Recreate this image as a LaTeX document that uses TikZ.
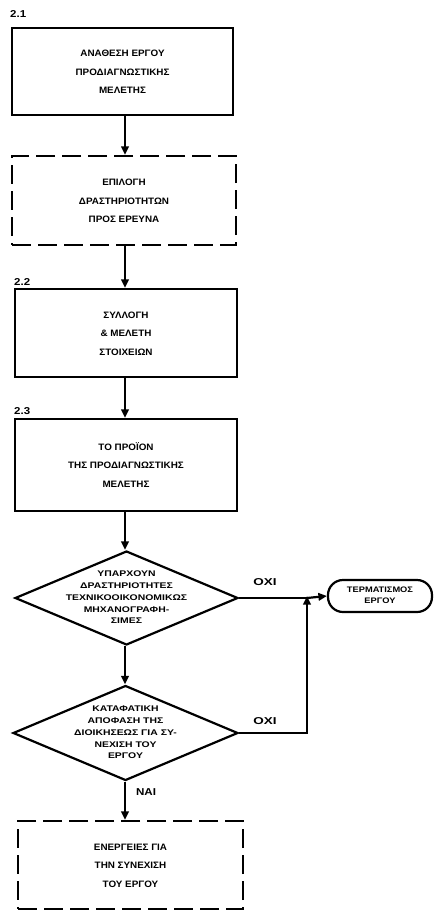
\documentclass[tikz,border=0pt]{standalone}
\usepackage{graphicx}
\usepackage{fontspec}
\setmainfont{Liberation Sans}
\usetikzlibrary{shapes.geometric,arrows.meta}

% horizontally widened, centred block of lines
\newcommand\widetext[2]{\scalebox{#1}[1]{\begin{tabular}{@{}c@{}}#2\end{tabular}}}

\tikzset{
  line/.style={line width=2.2pt},
  arr/.style={line, -{Triangle[length=8.5pt,width=7.5pt]}},
  solidbox/.style={draw, line width=2.4pt, rectangle,
    font=\bfseries\fontsize{9.3}{18.5}\selectfont, inner sep=0pt},
  dashbox/.style={solidbox, dash pattern=on 19pt off 7pt},
  decision/.style={draw, line width=2.2pt, diamond, inner sep=0pt},
  dtext/.style={font=\bfseries\fontsize{8.2}{11.7}\selectfont},
  terminal/.style={draw, line width=2.2pt, rectangle, rounded corners=15pt,
    font=\bfseries\fontsize{8}{11}\selectfont,
    minimum width=104pt, minimum height=32pt, inner sep=0pt},
  tag/.style={font=\bfseries\fontsize{10}{11}\selectfont, inner sep=0pt},
}

\begin{document}
\begin{tikzpicture}[x=1pt,y=-1pt]
\useasboundingbox (0,0) rectangle (437,913);
\coordinate (ax) at (125,0);

% process boxes
\node[solidbox, minimum width=221pt, minimum height=87pt] (b1) at (122.5,71.5)
  {\widetext{1.06}{ΑΝΑΘΕΣΗ ΕΡΓΟΥ\\ΠΡΟΔΙΑΓΝΩΣΤΙΚΗΣ\\ΜΕΛΕΤΗΣ}};
\node[dashbox, minimum width=224pt, minimum height=89pt] (b2) at (124,200.5)
  {\widetext{1.06}{ΕΠΙΛΟΓΗ\\ΔΡΑΣΤΗΡΙΟΤΗΤΩΝ\\ΠΡΟΣ ΕΡΕΥΝΑ}};
\node[solidbox, minimum width=222pt, minimum height=88pt] (b3) at (126,333)
  {\widetext{1.06}{ΣΥΛΛΟΓΗ\\\& ΜΕΛΕΤΗ\\ΣΤΟΙΧΕΙΩΝ}};
\node[solidbox, minimum width=222pt, minimum height=92pt] (b4) at (126,465)
  {\widetext{1.06}{ΤΟ ΠΡΟΪΟΝ\\ΤΗΣ ΠΡΟΔΙΑΓΝΩΣΤΙΚΗΣ\\ΜΕΛΕΤΗΣ}};
\node[dashbox, minimum width=225pt, minimum height=88pt] (b5) at (130.5,865)
  {\widetext{1.06}{ΕΝΕΡΓΕΙΕΣ ΓΙΑ\\ΤΗΝ ΣΥΝΕΧΙΣΗ\\ΤΟΥ ΕΡΓΟΥ}};

% section numbers
\node[tag, anchor=west] (s1) at (10,15) {\widetext{1.15}{2.1}};
\node[tag, anchor=west] (s2) at (14,283) {\widetext{1.15}{2.2}};
\node[tag, anchor=west] (s3) at (14,412) {\widetext{1.15}{2.3}};

% decisions
\node[decision, minimum width=223pt, minimum height=94pt,
  label={[dtext]center:{\widetext{1.27}{ΥΠΑΡΧΟΥΝ\\ΔΡΑΣΤΗΡΙΟΤΗΤΕΣ\\ΤΕΧΝΙΚΟΟΙΚΟΝΟΜΙΚΩΣ\\ΜΗΧΑΝΟΓΡΑΦΗ-\\ΣΙΜΕΣ}}}]
  (d1) at (126.5,598) {};
\node[decision, minimum width=225pt, minimum height=95pt,
  label={[dtext]center:{\widetext{1.27}{ΚΑΤΑΦΑΤΙΚΗ\\ΑΠΟΦΑΣΗ ΤΗΣ\\ΔΙΟΙΚΗΣΕΩΣ ΓΙΑ ΣΥ-\\ΝΕΧΙΣΗ ΤΟΥ\\ΕΡΓΟΥ}}}]
  (d2) at (125.5,733) {};

% end of project
\node[terminal] (t) at (380,596) {\widetext{1.16}{ΤΕΡΜΑΤΙΣΜΟΣ\\ΕΡΓΟΥ}};

\coordinate (jn) at (307,596);

% main flow
\draw[arr] (b1.south -| ax) -- (b2.north -| ax);
\draw[arr] (b2.south -| ax) -- (b3.north -| ax);
\draw[arr] (b3.south -| ax) -- (b4.north -| ax);
\draw[arr] (b4.south -| ax) -- (d1.north -| ax);
\draw[arr] (d1.south -| ax) -- (d2.north -| ax);
\draw[arr] (d2.south -| ax) -- (b5.north -| ax)
  node[tag, pos=0.3, right=10pt] (yes) {\widetext{1.16}{ΝΑΙ}};

% "no" branches
\draw[line] (d1.east) -- (d1.east -| jn);
\draw[arr] (d1.east -| jn) -- (t.west);
\draw[arr] (d2.east) -- (d2.east -| jn) -- (jn);
\node[tag] (no1) at (265,583) {\widetext{1.35}{ΟΧΙ}};
\node[tag] (no2) at (265,722) {\widetext{1.35}{ΟΧΙ}};
\end{tikzpicture}
\end{document}
